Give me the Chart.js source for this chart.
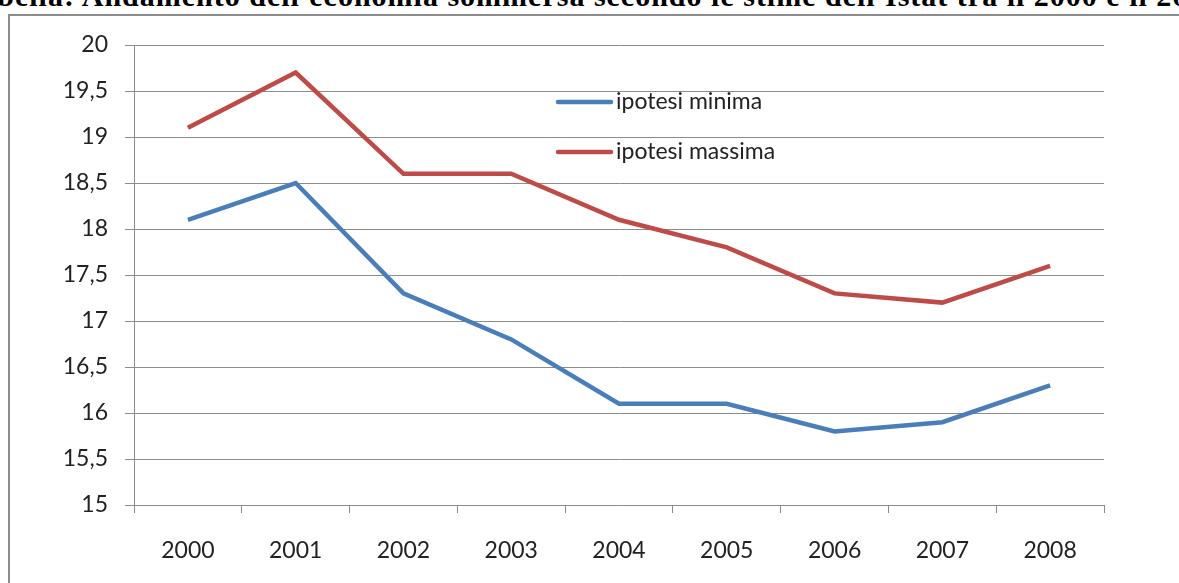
<!DOCTYPE html>
<html>
<head>
<meta charset="utf-8">
<script src="https://cdn.jsdelivr.net/npm/chart.js@4"></script>
<style>
  html, body { margin: 0; padding: 0; background: #fff; overflow: hidden; }
  #wrap { position: relative; width: 1179px; height: 583px; }
  #title {
    position: absolute; left: -37px; top: -21px; white-space: nowrap; letter-spacing: 1px;
    font-family: "Liberation Serif", serif; font-weight: bold; font-size: 30px; color: #000;
  }
  #frame {
    position: absolute; left: 8px; top: 14px; width: 1300px; height: 700px;
    border-top: 2px solid #8c8c8c; border-left: 2px solid #8c8c8c;
  }
  #box { position: absolute; left: 0; top: 0; width: 1179px; height: 583px; }
</style>
</head>
<body>
<div id="wrap">
  <div id="title">Tabella: Andamento dell'economia sommersa secondo le stime dell'Istat tra il 2000 e il 2008</div>
  <div id="frame"></div>
  <div id="box"><canvas id="chart" width="1179" height="583"></canvas></div>
</div>
<script>
const years = ['2000', '2001', '2002', '2003', '2004', '2005', '2006', '2007', '2008'];
const ipotesiMinima = [18.1, 18.5, 17.3, 16.8, 16.1, 16.1, 15.8, 15.9, 16.3];
const ipotesiMassima = [19.1, 19.7, 18.6, 18.6, 18.1, 17.8, 17.3, 17.2, 17.6];
const seriesNames = ['ipotesi minima', 'ipotesi massima'];

const gridColor = '#8c8c8c';
const font = { family: 'Lato', size: 23 };

// legend drawn inside the plot, like the original
const legendInside = {
  id: 'legendInside',
  afterDraw(chart) {
    const c = chart.ctx;
    c.save();
    c.font = '23px Lato';
    c.textBaseline = 'middle';
    chart.data.datasets.forEach((ds, i) => {
      const y = 102 + i * 50;
      c.strokeStyle = ds.borderColor;
      c.lineWidth = 4.5;
      c.lineCap = 'round';
      c.beginPath();
      c.moveTo(558, y);
      c.lineTo(611, y);
      c.stroke();
      c.fillStyle = '#222';
      c.fillText(ds.label, 616, y);
    });
    c.restore();
  }
};

new Chart(document.getElementById('chart'), {
  type: 'line',
  data: {
    labels: years,
    datasets: [
      { label: seriesNames[0], data: ipotesiMinima, borderColor: '#4a7ebb', borderWidth: 4.5, pointRadius: 0, tension: 0 },
      { label: seriesNames[1], data: ipotesiMassima, borderColor: '#be4b48', borderWidth: 4.5, pointRadius: 0, tension: 0 }
    ]
  },
  options: {
    responsive: false,
    animation: false,
    layout: { padding: { top: 45, right: 75, left: 0, bottom: 0 } },
    plugins: { legend: { display: false }, tooltip: { enabled: false } },
    scales: {
      x: {
        offset: true,
        grid: { offset: true, drawOnChartArea: false, color: gridColor, tickLength: 8 },
        border: { color: gridColor },
        ticks: { font: font, color: '#222', padding: 24, maxRotation: 0 },
        afterFit(scale) { scale.height = 78; }
      },
      y: {
        min: 15,
        max: 20,
        grid: { color: gridColor, tickLength: 9 },
        border: { color: gridColor },
        ticks: {
          stepSize: 0.5,
          font: font,
          color: '#222',
          padding: 17,
          callback: v => String(v).replace('.', ',')
        },
        afterFit(scale) { scale.width = 134; }
      }
    }
  },
  plugins: [legendInside]
});
</script>
</body>
</html>
